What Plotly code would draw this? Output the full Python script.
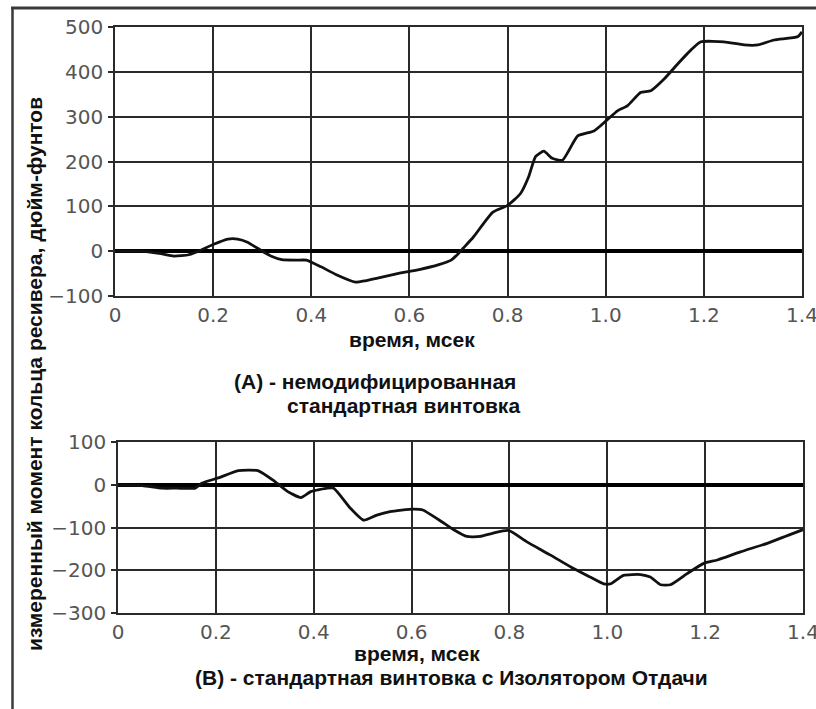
import plotly.graph_objects as go

# (A) unmodified standard rifle: time, ms -> measured receiver-ring moment, in-lb
time_a = [0, 0.05, 0.09, 0.12, 0.15, 0.17, 0.20, 0.23, 0.25, 0.27, 0.30, 0.32,
          0.34, 0.37, 0.39, 0.42, 0.45, 0.49, 0.51, 0.535, 0.58, 0.62, 0.66,
          0.685, 0.70, 0.71, 0.73, 0.77, 0.80, 0.826, 0.843, 0.857, 0.874,
          0.891, 0.912, 0.943, 0.976, 1.00, 1.024, 1.044, 1.071, 1.092, 1.119,
          1.147, 1.174, 1.194, 1.241, 1.282, 1.31, 1.343, 1.391, 1.40]
moment_a = [0, 0, -5, -11, -8, 0, 15, 27, 27, 20, 0, -12,
            -19, -20, -20, -35, -52, -69, -66, -60, -49, -41, -30,
            -20, -5, 7, 31, 87, 102, 128, 166, 211, 223,
            207, 203, 257, 268, 290, 313, 324, 354, 358, 384,
            418, 449, 467, 467, 460, 460, 471, 478, 489]

# (B) standard rifle with recoil isolator
time_b = [0, 0.05, 0.09, 0.12, 0.158, 0.172, 0.205, 0.246, 0.286, 0.32, 0.347,
          0.374, 0.394, 0.428, 0.441, 0.475, 0.502, 0.529, 0.556, 0.603, 0.623,
          0.657, 0.687, 0.713, 0.74, 0.767, 0.798, 0.835, 0.883, 0.931, 0.965,
          0.993, 1.006, 1.033, 1.068, 1.088, 1.109, 1.129, 1.163, 1.197, 1.225,
          1.272, 1.327, 1.368, 1.40]
moment_b = [0, -2, -8, -8, -8, 4, 16, 33, 33, 8, -16,
            -30, -16, -8, -8, -55, -83, -71, -63, -57, -59,
            -83, -106, -121, -121, -113, -107, -133, -164, -196, -216,
            -232, -232, -212, -210, -216, -234, -234, -208, -184, -176,
            -157, -137, -119, -105]

x_ticks = [0, 0.2, 0.4, 0.6, 0.8, 1.0, 1.2, 1.4]
x_ticktext = ["0", "0.2", "0.4", "0.6", "0.8", "1.0", "1.2", "1.4"]
y_ticks_a = [-100, 0, 100, 200, 300, 400, 500]
y_ticks_b = [-300, -200, -100, 0, 100]

x_title = "время, мсек"
caption_a = ["(A) - немодифицированная", "стандартная винтовка"]
caption_b = "(B) - стандартная винтовка с Изолятором Отдачи"
y_title = "измеренный момент кольца ресивера, дюйм-фунтов"

W, H = 816, 709


def px(x):
    return x / W


def py(y):
    return 1 - y / H


tick_font = dict(family="DejaVu Sans", size=20, color="#555")
label_font = dict(family="Liberation Sans, Arial, sans-serif", size=21, color="#111")
grid_col = "#2a2a2a"

fig = go.Figure()
fig.add_trace(go.Scatter(x=time_a, y=moment_a, mode="lines", xaxis="x", yaxis="y",
                         line=dict(color="#111", width=2.8, shape="spline", smoothing=0.5),
                         showlegend=False))
fig.add_trace(go.Scatter(x=time_b, y=moment_b, mode="lines", xaxis="x2", yaxis="y2",
                         line=dict(color="#111", width=2.8, shape="spline", smoothing=0.5),
                         showlegend=False))

xcommon = dict(range=[0, 1.4], tickvals=x_ticks, ticktext=x_ticktext, tickfont=tick_font,
               showgrid=True, gridcolor=grid_col, gridwidth=1.5, zeroline=False,
               showline=True, linecolor=grid_col, linewidth=1.5, mirror=True,
               ticks="", ticklabelstandoff=0, ticklabeloverflow="allow",
               automargin=False, fixedrange=True)
ycommon = dict(tickfont=tick_font, showgrid=True, gridcolor=grid_col, gridwidth=1.5,
               zeroline=True, zerolinecolor="#000", zerolinewidth=4,
               showline=True, linecolor=grid_col, linewidth=1.5, mirror=True,
               ticks="outside", ticklen=5, tickcolor=grid_col, tickwidth=1.5,
               ticklabelstandoff=1, ticklabeloverflow="allow",
               automargin=False, fixedrange=True)

fig.update_layout(
    width=W, height=H,
    margin=dict(l=0, r=0, t=0, b=0, autoexpand=False),
    paper_bgcolor="white", plot_bgcolor="white",
    xaxis=dict(domain=[px(115), px(802)], anchor="y", **xcommon),
    yaxis=dict(domain=[py(296), py(27)], anchor="x", range=[-100, 500],
               tickvals=y_ticks_a, **ycommon),
    xaxis2=dict(domain=[px(118), px(803)], anchor="y2", **xcommon),
    yaxis2=dict(domain=[py(613), py(442)], anchor="x2", range=[-300, 100],
                tickvals=y_ticks_b, **ycommon),
)

bold = lambda s: "<b>" + s + "</b>"
annotations = [
    dict(text=bold(x_title), x=px(412), y=py(340), xanchor="center", yanchor="middle"),
    dict(text=bold(caption_a[0]), x=px(232), y=py(381), xanchor="left", yanchor="middle"),
    dict(text=bold(caption_a[1]), x=px(285), y=py(405), xanchor="left", yanchor="middle"),
    dict(text=bold(x_title), x=px(417), y=py(653), xanchor="center", yanchor="middle"),
    dict(text=bold(caption_b), x=px(193), y=py(677), xanchor="left", yanchor="middle"),
    dict(text=bold(y_title), x=px(35), y=py(374), xanchor="center", yanchor="middle",
         textangle=-90),
]
for a in annotations:
    a.update(xref="paper", yref="paper", showarrow=False, font=label_font)
fig.update_layout(annotations=annotations)

# page frame: top rule and left rule
fig.add_shape(type="line", xref="paper", yref="paper", x0=px(11), x1=1, y0=py(8), y1=py(8),
              line=dict(color="#3a3a3a", width=3))
fig.add_shape(type="line", xref="paper", yref="paper", x0=px(12.5), x1=px(12.5), y0=0, y1=py(8),
              line=dict(color="#3a3a3a", width=2.5))

fig.write_html("out.html")
